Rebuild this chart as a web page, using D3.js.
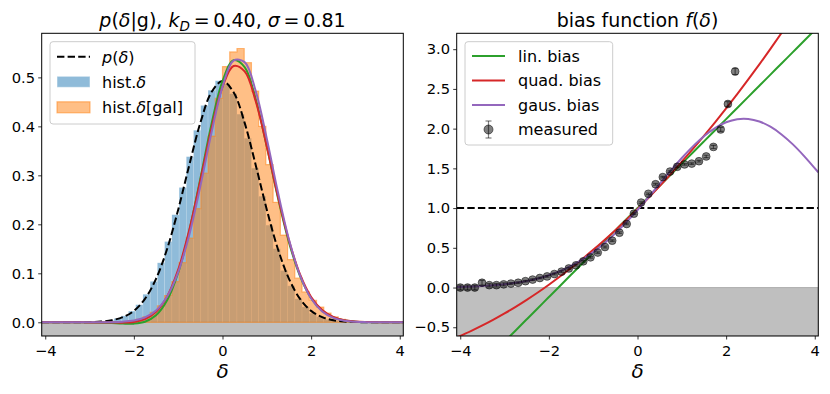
<!DOCTYPE html>
<html>
<head>
<meta charset="utf-8">
<script src="https://cdn.jsdelivr.net/npm/d3@7"></script>
<style>
  body { margin: 0; background: #fff; }
  svg { font-family: 'DejaVu Sans', sans-serif; }
  .tick text { font-size: 14.7px; fill: #000; }
  .tick line { stroke: #000; stroke-width: 0.8; }
  .leg text { font-size: 16px; }
</style>
</head>
<body>
<div id="chart"></div>
<script>
// histogram bins (delta) shared by both panels
const histEdges = [-4.08, -3.917, -3.754, -3.590, -3.427, -3.264, -3.101, -2.938, -2.774, -2.611,
  -2.448, -2.285, -2.122, -1.958, -1.795, -1.632, -1.469, -1.306, -1.142, -0.979,
  -0.816, -0.653, -0.490, -0.326, -0.163, 0.0, 0.163, 0.326, 0.490, 0.653,
  0.816, 0.979, 1.142, 1.306, 1.469, 1.632, 1.795, 1.958, 2.122, 2.285,
  2.448, 2.611, 2.774, 2.938, 3.101, 3.264, 3.427, 3.590, 3.754, 3.917, 4.08];

// hist.delta (density)
const histAll = [0, 0, 0, 0.0001, 0.0001, 0.0003, 0.0005, 0.0011, 0.0023, 0.0041,
  0.0078, 0.0131, 0.0228, 0.0359, 0.0572, 0.0835, 0.1214, 0.1648, 0.2196, 0.2752,
  0.3381, 0.3921, 0.4427, 0.4738, 0.4931, 0.4867, 0.4668, 0.4249, 0.3758, 0.3147,
  0.2574, 0.1983, 0.1502, 0.1057, 0.0745, 0.0481, 0.0314, 0.0186, 0.0112, 0.0061,
  0.0035, 0.0017, 0.0009, 0.0004, 0.0002, 0.0001, 0, 0, 0, 0];

// hist.delta[gal] (density)
const histGal = [0, 0, 0, 0, 0, 0, 0, 0.0001, 0.0001, 0.0003,
  0.0008, 0.0016, 0.0032, 0.0062, 0.0113, 0.0202, 0.0338, 0.0547, 0.0831, 0.1218,
  0.1718, 0.2322, 0.3044, 0.3802, 0.4571, 0.5220, 0.5520, 0.5590, 0.5300, 0.4720,
  0.4000, 0.3220, 0.2450, 0.1780, 0.1280, 0.0900, 0.0620, 0.0450, 0.0310, 0.0190,
  0.0110, 0.0060, 0.0030, 0.0015, 0.0007, 0.0003, 0.0001, 0, 0, 0];

// sample points for the smooth curves
const curveDelta = [-4.08, -3.75, -3.5, -3.25, -3, -2.75, -2.5, -2.25, -2, -1.75, -1.5, -1.25, -1, -0.75, -0.5, -0.25,
  0, 0.25, 0.5, 0.75, 1, 1.25, 1.5, 1.75, 2, 2.25, 2.5, 2.75, 3, 3.25, 3.5, 3.75, 4.08];

const pDelta = [0, 0, 0, 0.0002, 0.0005, 0.0015, 0.0042, 0.0104, 0.0233, 0.0477, 0.0887, 0.1497, 0.2299, 0.3208, 0.4071, 0.4696,
  0.4925, 0.4696, 0.4071, 0.3208, 0.2299, 0.1497, 0.0887, 0.0477, 0.0233, 0.0104, 0.0042, 0.0015, 0.0005, 0.0002, 0, 0, 0];

// p(delta) * f(delta) for each fit (left panel)
const fitLinLeft = [0, 0, 0, -0.0001, -0.0003, -0.0008, -0.0017, -0.0027, -0.0028, 0.0010, 0.0142, 0.0449, 0.1012, 0.1861, 0.2931, 0.4039,
  0.4925, 0.5353, 0.5211, 0.4555, 0.3586, 0.2545, 0.1632, 0.0944, 0.0494, 0.0235, 0.0101, 0.0038, 0.0013, 0.0005, 0.0001, 0, 0];
const fitQuadLeft = [0, 0, 0, -0.0001, -0.0002, -0.0004, -0.0006, -0.0007, 0.0008, 0.0065, 0.0214, 0.0526, 0.1074, 0.1884, 0.2896, 0.3947,
  0.4804, 0.5233, 0.5122, 0.4513, 0.3588, 0.2573, 0.1669, 0.0977, 0.0517, 0.0249, 0.0108, 0.0041, 0.0015, 0.0005, 0.0001, 0, 0];
const fitGausLeft = [0, 0, 0, 0, 0, 0.0001, 0.0003, 0.0012, 0.0036, 0.0099, 0.0241, 0.0526, 0.1025, 0.1784, 0.2776, 0.3863,
  0.4807, 0.5344, 0.5312, 0.4719, 0.3749, 0.2660, 0.1690, 0.0957, 0.0485, 0.0220, 0.0089, 0.0031, 0.0010, 0.0003, 0.0001, 0, 0];

// bias functions f(delta) (right panel)
const biasLin = [-1.285, -1.10, -0.96, -0.82, -0.68, -0.54, -0.40, -0.26, -0.12, 0.02, 0.16, 0.30, 0.44, 0.58, 0.72, 0.86,
  1.00, 1.14, 1.28, 1.42, 1.56, 1.70, 1.84, 1.98, 2.12, 2.26, 2.40, 2.54, 2.68, 2.82, 2.96, 3.10, 3.285];
const biasQuad = [-0.628, -0.545, -0.477, -0.404, -0.326, -0.243, -0.155, -0.063, 0.035, 0.138, 0.245, 0.357, 0.474, 0.596, 0.722, 0.853,
  0.990, 1.131, 1.277, 1.428, 1.584, 1.745, 1.910, 2.080, 2.255, 2.435, 2.620, 2.809, 3.004, 3.204, 3.408, 3.617, 3.900];
const biasGaus = [0.007, 0.013, 0.019, 0.028, 0.041, 0.059, 0.083, 0.114, 0.155, 0.207, 0.272, 0.351, 0.446, 0.556, 0.682, 0.823,
  0.976, 1.138, 1.305, 1.471, 1.631, 1.777, 1.905, 2.007, 2.080, 2.119, 2.122, 2.090, 2.024, 1.927, 1.805, 1.661, 1.450];

// measured bias in the first 39 bins
const measuredBias = [0.00, 0.00, 0.00, 0.06, 0.03, 0.03, 0.04, 0.05, 0.06, 0.08,
  0.10, 0.12, 0.14, 0.17, 0.20, 0.24, 0.28, 0.33, 0.38, 0.44,
  0.51, 0.59, 0.69, 0.80, 0.93, 1.07, 1.18, 1.30, 1.39, 1.46,
  1.52, 1.55, 1.56, 1.59, 1.65, 1.77, 1.99, 2.31, 2.72];
const measuredErr = [0.03, 0.03, 0.03, 0.03, 0.02, 0.02, 0.02, 0.01, 0.01, 0.01,
  0.01, 0.01, 0.01, 0.01, 0.01, 0.01, 0.01, 0.01, 0.01, 0.01,
  0.01, 0.01, 0.01, 0.01, 0.01, 0.01, 0.01, 0.01, 0.01, 0.01,
  0.01, 0.01, 0.01, 0.01, 0.015, 0.02, 0.025, 0.03, 0.04];

const xTicks = [-4, -2, 0, 2, 4];
const yTicksLeft = [0, 0.1, 0.2, 0.3, 0.4, 0.5];
const yTicksRight = [-0.5, 0, 0.5, 1, 1.5, 2, 2.5, 3];

const C = { blue: '#1f77b4', orange: '#ff7f0e', green: '#2ca02c', red: '#d62728', purple: '#9467bd' };
const axTop = 33.3, axBottom = 336;

const svg = d3.select('#chart').append('svg').attr('width', 830).attr('height', 394);
const defs = svg.append('defs');

const xL = d3.scaleLinear().domain([-4.08, 4.08]).range([41.7, 403.3]);
const yL = d3.scaleLinear().domain([-0.028, 0.59]).range([axBottom, axTop]);
const xR = d3.scaleLinear().domain([-4.08, 4.08]).range([456.7, 818.3]);
const yR = d3.scaleLinear().domain([-0.61, 3.2]).range([axBottom, axTop]);

function clip(id, x) {
  defs.append('clipPath').attr('id', id).append('rect')
    .attr('x', x.range()[0]).attr('y', axTop)
    .attr('width', x.range()[1] - x.range()[0]).attr('height', axBottom - axTop);
  return svg.append('g').attr('clip-path', `url(#${id})`);
}

function greyBand(g, x, y) {
  g.append('rect')
    .attr('x', x.range()[0]).attr('y', y(0))
    .attr('width', x.range()[1] - x.range()[0]).attr('height', axBottom - y(0))
    .attr('fill', '#bfbfbf').attr('stroke', '#808080').attr('stroke-opacity', 0.5);
}

function curve(g, x, y, vals, color, dash) {
  const line = d3.line().x((d, i) => x(curveDelta[i])).y(d => y(d)).curve(d3.curveCatmullRom);
  g.append('path').attr('d', line(vals)).attr('fill', 'none')
    .attr('stroke', color).attr('stroke-width', 2)
    .attr('stroke-dasharray', dash || null);
}

function frame(x, y, yTicks) {
  svg.append('g').attr('transform', `translate(0,${axBottom})`)
    .call(d3.axisBottom(x).tickValues(xTicks).tickFormat(d3.format('d')).tickSize(3.5).tickPadding(6.5))
    .call(g => g.select('.domain').remove());
  svg.append('g').attr('transform', `translate(${x.range()[0]},0)`)
    .call(d3.axisLeft(y).tickValues(yTicks).tickFormat(d3.format('.1f')).tickSize(3.5).tickPadding(3.2))
    .call(g => g.select('.domain').remove());
  svg.selectAll('.tick text').attr('font-family', 'DejaVu Sans');
  svg.append('rect')
    .attr('x', x.range()[0]).attr('y', axTop)
    .attr('width', x.range()[1] - x.range()[0]).attr('height', axBottom - axTop)
    .attr('fill', 'none').attr('stroke', '#000').attr('stroke-width', 1);
  svg.append('text')
    .attr('x', (x.range()[0] + x.range()[1]) / 2).attr('y', 378)
    .attr('text-anchor', 'middle').attr('font-size', 20).attr('font-style', 'italic')
    .text('δ');
}

// ---------- left panel ----------
const gl = clip('clipL', xL);
greyBand(gl, xL, yL);

const binsAll = histAll.map((v, i) => ({ v, x0: histEdges[i], x1: histEdges[i + 1] })).filter(d => d.v > 0);
gl.append('g').selectAll('rect').data(binsAll).join('rect')
  .attr('x', d => xL(d.x0)).attr('width', d => xL(d.x1) - xL(d.x0))
  .attr('y', d => yL(d.v)).attr('height', d => yL(0) - yL(d.v))
  .attr('fill', C.blue).attr('fill-opacity', 0.5)
  .attr('stroke', '#fff').attr('stroke-opacity', 0.3).attr('stroke-width', 0.5);

const galPts = histGal.map((v, i) => [histEdges[i], v]).concat([[histEdges[histEdges.length - 1], histGal[histGal.length - 1]]]);
const stepArea = d3.area().x(d => xL(d[0])).y0(yL(0)).y1(d => yL(d[1])).curve(d3.curveStepAfter);
gl.append('path').attr('d', stepArea(galPts))
  .attr('fill', C.orange).attr('fill-opacity', 0.5)
  .attr('stroke', C.orange).attr('stroke-opacity', 0.5).attr('stroke-width', 1.2);

curve(gl, xL, yL, pDelta, '#000', '7.4,3.2');
curve(gl, xL, yL, fitLinLeft, C.green);
curve(gl, xL, yL, fitQuadLeft, C.red);
curve(gl, xL, yL, fitGausLeft, C.purple);
frame(xL, yL, yTicksLeft);

// title with math (thin spaces around "=" like mathtext)
const t1 = svg.append('text').attr('x', 222.5).attr('y', 26.5).attr('text-anchor', 'middle').attr('font-size', 19);
t1.append('tspan').attr('font-style', 'italic').text('p');
t1.append('tspan').text('(');
t1.append('tspan').attr('font-style', 'italic').text('δ');
t1.append('tspan').text('|g), ');
t1.append('tspan').attr('font-style', 'italic').text('k');
t1.append('tspan').attr('font-style', 'italic').attr('font-size', 13.5).attr('dy', 4).text('D');
t1.append('tspan').attr('dy', -4).text('\u2009=\u20090.40, ');
t1.append('tspan').attr('font-style', 'italic').text('σ');
t1.append('tspan').text('\u2009=\u20090.81');

// left legend
const lg = svg.append('g').attr('class', 'leg');
lg.append('rect').attr('x', 50).attr('y', 41.7).attr('width', 145).attr('height', 82.3).attr('rx', 3)
  .attr('fill', '#fff').attr('fill-opacity', 0.8).attr('stroke', '#ccc').attr('stroke-width', 1);
lg.append('line').attr('x1', 57).attr('x2', 90).attr('y1', 56.7).attr('y2', 56.7)
  .attr('stroke', '#000').attr('stroke-width', 2).attr('stroke-dasharray', '7.4,3.2');
lg.append('rect').attr('x', 57).attr('y', 76.3).attr('width', 33).attr('height', 11)
  .attr('fill', C.blue).attr('fill-opacity', 0.5).attr('stroke', '#fff').attr('stroke-opacity', 0.5);
lg.append('rect').attr('x', 57).attr('y', 101.8).attr('width', 33).attr('height', 11)
  .attr('fill', C.orange).attr('fill-opacity', 0.5).attr('stroke', C.orange).attr('stroke-opacity', 0.5).attr('stroke-width', 1.2);
const l1 = lg.append('text').attr('x', 102).attr('y', 62.5);
l1.append('tspan').attr('font-style', 'italic').text('p');
l1.append('tspan').text('(');
l1.append('tspan').attr('font-style', 'italic').text('δ');
l1.append('tspan').text(')');
const l2 = lg.append('text').attr('x', 102).attr('y', 87.5);
l2.append('tspan').text('hist.');
l2.append('tspan').attr('font-style', 'italic').text('δ');
const l3 = lg.append('text').attr('x', 102).attr('y', 113);
l3.append('tspan').text('hist.');
l3.append('tspan').attr('font-style', 'italic').text('δ');
l3.append('tspan').text('[gal]');

// ---------- right panel ----------
const gr = clip('clipR', xR);
greyBand(gr, xR, yR);
gr.append('line').attr('x1', xR.range()[0]).attr('x2', xR.range()[1]).attr('y1', yR(1)).attr('y2', yR(1))
  .attr('stroke', '#000').attr('stroke-width', 2).attr('stroke-dasharray', '7.4,3.2');
curve(gr, xR, yR, biasLin, C.green);
curve(gr, xR, yR, biasQuad, C.red);
curve(gr, xR, yR, biasGaus, C.purple);

const pts = measuredBias.map((v, i) => ({ x: (histEdges[i] + histEdges[i + 1]) / 2, v, e: measuredErr[i] }));
const pg = gr.append('g').selectAll('g').data(pts).join('g');
pg.append('line').attr('x1', d => xR(d.x)).attr('x2', d => xR(d.x))
  .attr('y1', d => yR(d.v - d.e)).attr('y2', d => yR(d.v + d.e))
  .attr('stroke', '#000').attr('stroke-opacity', 0.5).attr('stroke-width', 1.2);
[-1, 1].forEach(s => {
  pg.append('line').attr('x1', d => xR(d.x) - 2.5).attr('x2', d => xR(d.x) + 2.5)
    .attr('y1', d => yR(d.v + s * d.e)).attr('y2', d => yR(d.v + s * d.e))
    .attr('stroke', '#000').attr('stroke-opacity', 0.5).attr('stroke-width', 1.2);
});
pg.append('circle').attr('cx', d => xR(d.x)).attr('cy', d => yR(d.v)).attr('r', 3.9)
  .attr('fill', '#000').attr('fill-opacity', 0.5)
  .attr('stroke', '#000').attr('stroke-opacity', 0.5).attr('stroke-width', 1);

frame(xR, yR, yTicksRight);

const t2 = svg.append('text').attr('x', 637.5).attr('y', 26.5).attr('text-anchor', 'middle').attr('font-size', 19);
t2.append('tspan').text('bias function ');
t2.append('tspan').attr('font-style', 'italic').text('f');
t2.append('tspan').text('(');
t2.append('tspan').attr('font-style', 'italic').text('δ');
t2.append('tspan').text(')');

// right legend
const rg = svg.append('g').attr('class', 'leg');
rg.append('rect').attr('x', 465).attr('y', 41.7).attr('width', 147.7).attr('height', 103.3).attr('rx', 3)
  .attr('fill', '#fff').attr('fill-opacity', 0.8).attr('stroke', '#ccc').attr('stroke-width', 1);
const legR = [['lin. bias', C.green], ['quad. bias', C.red], ['gaus. bias', C.purple]];
legR.forEach(([name, col], i) => {
  const yy = 56 + i * 24.5;
  rg.append('line').attr('x1', 472).attr('x2', 505).attr('y1', yy).attr('y2', yy)
    .attr('stroke', col).attr('stroke-width', 2);
  rg.append('text').attr('x', 518).attr('y', yy + 5.8).text(name);
});
const my = 129.5;
rg.append('line').attr('x1', 488.5).attr('x2', 488.5).attr('y1', my - 8.5).attr('y2', my + 8.5)
  .attr('stroke', '#000').attr('stroke-opacity', 0.5).attr('stroke-width', 1.2);
[-8.5, 8.5].forEach(o => rg.append('line').attr('x1', 485.5).attr('x2', 491.5).attr('y1', my + o).attr('y2', my + o)
  .attr('stroke', '#000').attr('stroke-opacity', 0.5).attr('stroke-width', 1.2));
rg.append('circle').attr('cx', 488.5).attr('cy', my).attr('r', 4.5)
  .attr('fill', '#000').attr('fill-opacity', 0.5).attr('stroke', '#000').attr('stroke-opacity', 0.5);
rg.append('text').attr('x', 518).attr('y', my + 5.8).text('measured');
</script>
</body>
</html>
